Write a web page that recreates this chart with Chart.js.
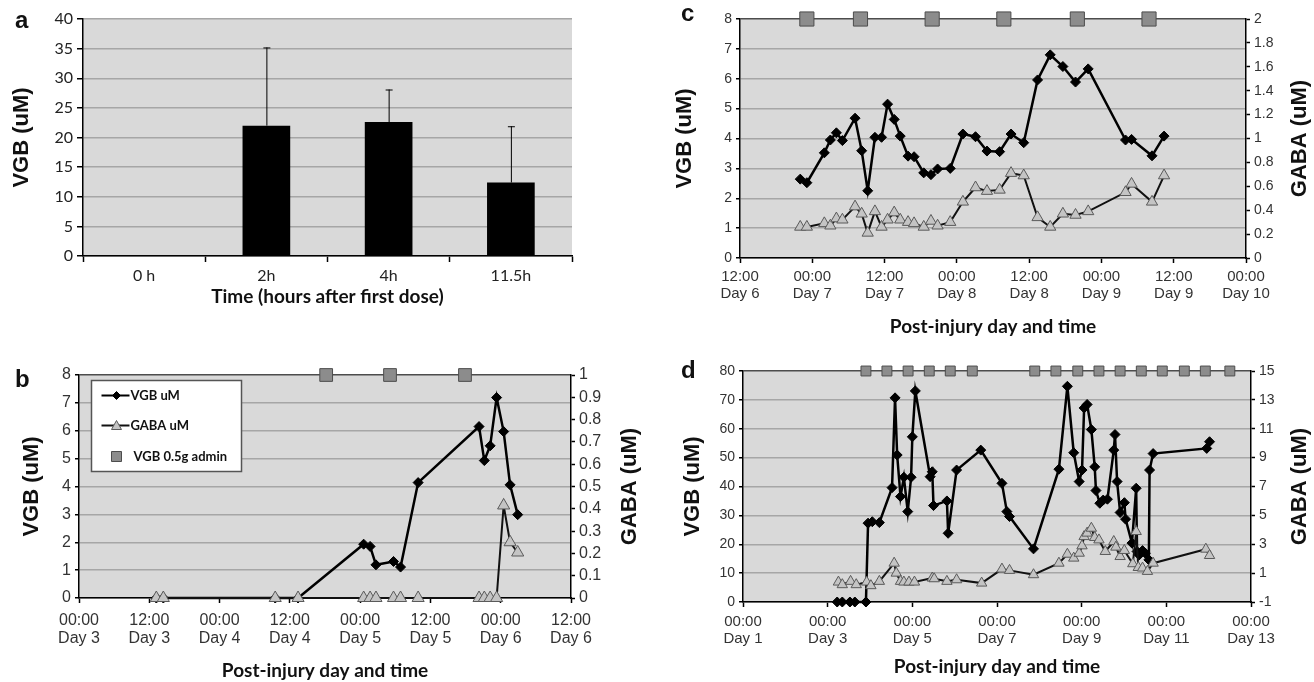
<!DOCTYPE html>
<html>
<head>
<meta charset="utf-8">
<title>VGB and GABA</title>
<script src="https://cdn.jsdelivr.net/npm/chart.js@4.4.0/dist/chart.umd.min.js"></script>
<style>
  body { margin: 0; background: #fff; }
  #fig { position: relative; width: 1314px; height: 682px; overflow: hidden; }
  #fig canvas { position: absolute; }
  .tag { position: absolute; font: bold 24px 'Liberation Sans', Arial, sans-serif; line-height: 24px; color: #111; }
</style>
</head>
<body>
<div id="fig">
  <canvas id="chartA" width="640" height="322" style="left:0;top:0"></canvas>
  <canvas id="chartB" width="655" height="337" style="left:0;top:345px"></canvas>
  <canvas id="chartC" width="654" height="340" style="left:660px;top:0"></canvas>
  <canvas id="chartD" width="654" height="342" style="left:660px;top:340px"></canvas>
  <div class="tag" style="left:15px;top:8px">a</div>
  <div class="tag" style="left:15px;top:367px">b</div>
  <div class="tag" style="left:681px;top:1px">c</div>
  <div class="tag" style="left:681px;top:358px">d</div>
</div>
<script>
// --- data: panel a (bars, hours after first dose) ---
const aCategories = ['0 h', '2h', '4h', '11.5h'];
const aMeans = [0, 22.0, 22.6, 12.4];
const aErrors = [0, 13.2, 5.5, 9.5];

// --- panel b: hours counted from 00:00 Day 3 ---
const bTickLabels = [['00:00', 'Day 3'], ['12:00', 'Day 3'], ['00:00', 'Day 4'], ['12:00', 'Day 4'],
                     ['00:00', 'Day 5'], ['12:00', 'Day 5'], ['00:00', 'Day 6'], ['12:00', 'Day 6']];
const bVgbHours = [13.2, 14.4, 33.5, 37.4, 48.6, 49.7, 50.7, 53.7, 54.9, 57.9, 68.3, 69.2, 70.2, 71.3, 72.5, 73.6, 74.9];
const bVgbValues = [0, 0, 0, 0, 1.93, 1.85, 1.19, 1.31, 1.11, 4.14, 6.15, 4.93, 5.46, 7.19, 5.97, 4.06, 2.99];
const bGabaHours = [13.2, 14.4, 33.5, 37.4, 48.6, 49.7, 50.7, 53.7, 54.9, 57.9, 68.3, 69.2, 70.2, 71.3, 72.5, 73.6, 74.9];
const bGabaValues = [0, 0, 0, 0, 0, 0, 0, 0, 0, 0, 0, 0, 0, 0, 0.415, 0.25, 0.204];
const bAdminHours = [42.2, 53.1, 65.9];

// --- panel c: hours counted from 12:00 Day 6 ---
const cTickLabels = [['12:00', 'Day 6'], ['00:00', 'Day 7'], ['12:00', 'Day 7'], ['00:00', 'Day 8'],
                     ['12:00', 'Day 8'], ['00:00', 'Day 9'], ['12:00', 'Day 9'], ['00:00', 'Day 10']];
const cHours = [10.0, 11.1, 14.0, 15.0, 16.0, 17.0, 19.1, 20.2, 21.2, 22.4, 23.5, 24.5, 25.6, 26.6, 27.9, 28.9,
                30.5, 31.7, 32.8, 34.9, 37.0, 39.1, 41.0, 43.1, 45.0, 47.1, 49.4, 51.5, 53.6, 55.7, 57.8,
                64.0, 65.0, 68.4, 70.4];
const cVgbValues = [2.64, 2.52, 3.52, 3.95, 4.19, 3.93, 4.68, 3.59, 2.25, 4.04, 4.04, 5.15, 4.64, 4.08, 3.41, 3.39,
                    2.85, 2.79, 2.98, 3.0, 4.15, 4.06, 3.58, 3.56, 4.15, 3.86, 5.96, 6.8, 6.41, 5.89, 6.33,
                    3.95, 3.97, 3.42, 4.08];
const cGabaValues = [0.26, 0.26, 0.29, 0.27, 0.33, 0.32, 0.43, 0.37, 0.21, 0.39, 0.26, 0.32, 0.38, 0.32, 0.30, 0.29,
                     0.26, 0.31, 0.27, 0.30, 0.47, 0.59, 0.56, 0.57, 0.71, 0.69, 0.34, 0.26, 0.37, 0.36, 0.39,
                     0.55, 0.62, 0.47, 0.69];
const cAdminHours = [11.1, 20.0, 31.9, 43.8, 56.0, 67.9];

// --- panel d: hours counted from 00:00 Day 1 ---
const dTickLabels = [['00:00', 'Day 1'], ['00:00', 'Day 3'], ['00:00', 'Day 5'], ['00:00', 'Day 7'],
                     ['00:00', 'Day 9'], ['00:00', 'Day 11'], ['00:00', 'Day 13']];
const dVgbHours = [53.4, 56.3, 60.6, 63.4, 69.7, 70.9, 73.3, 77.3, 84.5, 86.2, 87.4, 89.3, 91.2, 93.4, 95.3, 96.0,
                   97.7, 106.1, 107.3, 108.0, 115.6, 116.3, 121.1, 134.8, 146.8, 149.6, 151.1, 164.7, 179.1, 183.9,
                   187.5, 190.6, 192.2, 193.4, 195.1, 197.5, 199.4, 200.1, 202.3, 204.2, 206.6, 210.2, 210.9, 212.1,
                   213.8, 216.2, 216.9, 220.5, 222.9, 223.4, 224.6, 226.5, 228.1, 230.1, 230.5, 232.5, 262.9, 264.5];
const dVgbValues = [0, 0, 0, 0, 0, 27.3, 27.8, 27.5, 39.6, 70.7, 50.9, 36.5, 43.2, 31.3, 43.2, 57.2,
                    73.1, 43.4, 45.1, 33.4, 35.0, 23.8, 45.7, 52.6, 41.1, 31.3, 29.6, 18.4, 46.0, 74.7,
                    51.7, 41.7, 45.7, 67.2, 68.4, 59.7, 46.8, 38.6, 34.2, 35.3, 35.6, 52.6, 58.0, 41.7,
                    31.0, 34.4, 28.7, 20.4, 39.4, 17.5, 16.3, 17.8, 16.9, 14.6, 45.7, 51.4, 53.2, 55.5];
const dGabaHours = [54.1, 56.3, 61.0, 64.2, 70.1, 72.5, 77.3, 85.7, 86.9, 89.3, 91.2, 94.1, 97.2, 107.3, 108.4,
                    115.6, 121.1, 135.3, 146.8, 151.1, 164.7, 179.1, 183.9, 187.5, 190.6, 192.2, 193.4, 195.1,
                    197.5, 199.4, 201.8, 205.4, 210.2, 211.4, 213.8, 216.2, 221.0, 222.9, 224.1, 226.5, 229.3,
                    232.5, 262.4, 264.5];
const dGabaValues = [0.38, 0.20, 0.43, 0.20, 0.38, 0.13, 0.43, 1.69, 1.0, 0.43, 0.38, 0.38, 0.38, 0.66, 0.61,
                     0.43, 0.54, 0.31, 1.28, 1.19, 0.89, 1.69, 2.31, 2.04, 2.38, 2.89, 3.53, 3.77,
                     4.11, 3.47, 3.30, 2.50, 3.19, 2.80, 2.15, 2.57, 1.65, 3.88, 1.39, 1.35, 1.12,
                     1.69, 2.66, 2.22];
const dAdminHours = [69.7, 81.6, 93.6, 105.6, 117.5, 130.0, 165.4, 177.4, 189.8, 201.8, 213.8, 225.8,
                     237.7, 250.2, 262.1, 276.0];

// --- shared styling ---
const SANS = "'Liberation Sans', Arial, sans-serif";
const CALI = "Lato, 'Open Sans', sans-serif";
const GRID = '#a6a6a6';
const TEXT = '#333';

const plotBg = {
  id: 'plotBg',
  beforeDraw(chart) {
    const { ctx, chartArea: a } = chart;
    ctx.save();
    ctx.fillStyle = '#d9d9d9';
    ctx.fillRect(a.left, a.top, a.right - a.left, a.bottom - a.top);
    ctx.restore();
  }
};

// right axis title, rotated the same way as the left one (reads bottom to top)
const rightTitle = {
  id: 'rightTitle',
  afterDraw(chart, args, opts) {
    const { ctx, chartArea: a } = chart;
    ctx.save();
    ctx.translate(opts.x, (a.top + a.bottom) / 2);
    ctx.rotate(-Math.PI / 2);
    ctx.font = 'bold 22px ' + SANS;
    ctx.fillStyle = '#111';
    ctx.textAlign = 'center';
    ctx.textBaseline = 'middle';
    ctx.fillText(opts.text, 0, 0);
    ctx.restore();
  }
};

const errorBars = {
  id: 'errorBars',
  afterDatasetsDraw(chart) {
    const { ctx } = chart;
    const yScale = chart.scales.y;
    chart.getDatasetMeta(0).data.forEach((bar, i) => {
      if (!aErrors[i]) return;
      const top = yScale.getPixelForValue(aMeans[i] + aErrors[i]);
      ctx.save();
      ctx.strokeStyle = '#000';
      ctx.lineWidth = 1;
      ctx.beginPath();
      ctx.moveTo(bar.x + 0.5, bar.y);
      ctx.lineTo(bar.x + 0.5, top);
      ctx.moveTo(bar.x - 3, top + 0.5);
      ctx.lineTo(bar.x + 4, top + 0.5);
      ctx.stroke();
      ctx.restore();
    });
  }
};

// legend box drawn inside the plot of panel b
const legendB = {
  id: 'legendB',
  afterDraw(chart) {
    const { ctx, chartArea: a } = chart;
    const x0 = a.left + 12.5, y0 = a.top + 5.5, w = 150, h = 91;
    ctx.save();
    ctx.fillStyle = '#fff';
    ctx.strokeStyle = '#555';
    ctx.lineWidth = 1.5;
    ctx.fillRect(x0, y0, w, h);
    ctx.strokeRect(x0, y0, w, h);
    const ds = chart.data.datasets;
    const rows = [ds[2], ds[1], ds[0]];
    const rowY = [15, 45, 76];
    rows.forEach((d, i) => {
      const cy = y0 + rowY[i], mx = x0 + 25;
      if (d.showLine !== false) {
        ctx.strokeStyle = d.borderColor;
        ctx.lineWidth = 2;
        ctx.beginPath();
        ctx.moveTo(x0 + 10, cy);
        ctx.lineTo(x0 + 38, cy);
        ctx.stroke();
      }
      ctx.fillStyle = d.pointBackgroundColor || d.backgroundColor;
      ctx.strokeStyle = d.pointBorderColor || d.borderColor;
      ctx.lineWidth = 1;
      ctx.beginPath();
      if (d.pointStyle === 'rectRot') {
        ctx.moveTo(mx - 4, cy); ctx.lineTo(mx, cy - 4); ctx.lineTo(mx + 4, cy); ctx.lineTo(mx, cy + 4);
      } else if (d.pointStyle === 'triangle') {
        ctx.moveTo(mx - 5, cy + 4); ctx.lineTo(mx, cy - 5); ctx.lineTo(mx + 5, cy + 4);
      } else {
        ctx.rect(mx - 5, cy - 5, 10, 10);
      }
      ctx.closePath();
      ctx.fill();
      ctx.stroke();
      ctx.fillStyle = '#111';
      ctx.font = 'bold 13px ' + CALI;
      ctx.textBaseline = 'middle';
      ctx.fillText(d.label, x0 + (i === 2 ? 42 : 39), cy);
    });
    ctx.restore();
  }
};

function timeAxis(min, max, step, labels, height, pad, titlePad, fontSize) {
  return {
    type: 'linear', min, max,
    ticks: {
      stepSize: step, autoSkip: false, maxRotation: 0, minRotation: 0, padding: pad, color: TEXT,
      font: { family: SANS, size: fontSize, lineHeight: 1.15 },
      callback: (v, i) => labels[i]
    },
    grid: { drawOnChartArea: false, drawTicks: true, tickLength: 5, tickColor: '#000', tickWidth: 1.5 },
    border: { color: '#000', width: 1.5 },
    title: { display: true, text: 'Post-injury day and time', color: '#111',
             font: { family: CALI, size: 19, weight: 'bold' }, padding: { top: 0, bottom: titlePad } },
    afterFit: s => { s.height = height; }
  };
}

function valueAxis(pos, min, max, step, width, title, titlePad, fontSize) {
  const left = pos === 'left';
  return {
    position: pos, min, max,
    ticks: { stepSize: step, autoSkip: false, padding: 4, color: TEXT, font: { family: SANS, size: fontSize },
             callback: v => String(+v.toFixed(2)) },
    grid: left
      ? { color: c => (c.tick && c.tick.value === max ? '#4d4d4d' : GRID), lineWidth: 1.5,
          tickColor: '#000', tickLength: 4, tickWidth: 1.5 }
      : { drawOnChartArea: false, tickColor: '#000', tickLength: 4, tickWidth: 1.5 },
    border: { color: '#000', width: 1.5 },
    title: { display: left, text: title, color: '#111', font: { family: SANS, size: 22, weight: 'bold' },
             padding: { top: titlePad, bottom: 0 } },
    afterFit: s => { s.width = width; }
  };
}

function points(xs, ys) {
  return xs.map((x, i) => ({ x, y: ys[i] }));
}

function dualChart(id, cfg) {
  return new Chart(document.getElementById(id), {
    type: 'line',
    data: {
      datasets: [
        { label: 'VGB 0.5g admin', data: cfg.admin.map(x => ({ x, y: cfg.vgbMax })), yAxisID: 'y',
          showLine: false, pointStyle: 'rect', pointRadius: cfg.sq, backgroundColor: '#8c8c8c',
          pointBackgroundColor: '#8c8c8c', borderColor: '#4d4d4d', pointBorderColor: '#4d4d4d',
          pointBorderWidth: 1, clip: false },
        { label: 'GABA uM', data: points(cfg.gabaX, cfg.gabaY), yAxisID: 'y1', borderColor: '#111',
          borderWidth: 2, pointStyle: 'triangle', pointRadius: cfg.tri, pointBackgroundColor: '#c4c4c4',
          pointBorderColor: '#5a5a5a', pointBorderWidth: 1, clip: false },
        { label: 'VGB uM', data: points(cfg.vgbX, cfg.vgbY), yAxisID: 'y', borderColor: '#000',
          borderWidth: 2.5, pointStyle: 'rectRot', pointRadius: cfg.dia, pointBackgroundColor: '#000',
          pointBorderColor: '#000', pointBorderWidth: 1, clip: false }
      ]
    },
    options: {
      responsive: false, animation: false, devicePixelRatio: 1,
      layout: { padding: { top: cfg.top, left: 0, right: 0, bottom: 0 } },
      plugins: { legend: { display: false }, tooltip: { enabled: false },
                 rightTitle: { x: cfg.rightTitleX, text: 'GABA (uM)' } },
      scales: { x: cfg.x, y: cfg.y, y1: cfg.y1 }
    },
    plugins: cfg.plugins
  });
}

// --- panel a ---
new Chart(document.getElementById('chartA'), {
  type: 'bar',
  data: {
    labels: aCategories,
    datasets: [{ data: aMeans, backgroundColor: '#000', barPercentage: 0.39, categoryPercentage: 1 }]
  },
  options: {
    responsive: false, animation: false, devicePixelRatio: 1,
    layout: { padding: { top: 19, right: 68, left: 0, bottom: 0 } },
    plugins: { legend: { display: false }, tooltip: { enabled: false } },
    scales: {
      x: {
        ticks: { color: '#222', font: { family: CALI, size: 16 }, padding: 4 },
        grid: { drawOnChartArea: false, tickLength: 6, tickColor: '#000', tickWidth: 1.5 },
        border: { color: '#000', width: 1.5 },
        title: { display: true, text: 'Time (hours after first dose)', color: '#111',
                 font: { family: CALI, size: 19, weight: 'bold' }, padding: { top: 0, bottom: 14 } },
        afterFit: s => { s.height = 66; }
      },
      y: {
        min: 0, max: 40,
        ticks: { stepSize: 5, autoSkip: false, color: '#222', font: { family: CALI, size: 16 }, padding: 4 },
        grid: { color: GRID, lineWidth: 1.5, tickLength: 6, tickColor: '#000', tickWidth: 1.5 },
        border: { color: '#000', width: 1.5 },
        title: { display: true, text: 'VGB (uM)', color: '#111', font: { family: SANS, size: 22, weight: 'bold' },
                 padding: { top: 9, bottom: 0 } },
        afterFit: s => { s.width = 83; }
      }
    }
  },
  plugins: [plotBg, errorBars]
});

// --- panel b ---
dualChart('chartB', {
  admin: bAdminHours, vgbMax: 8, vgbX: bVgbHours, vgbY: bVgbValues, gabaX: bGabaHours, gabaY: bGabaValues,
  sq: 9, tri: 7, dia: 5, top: 30, rightTitleX: 630,
  x: timeAxis(0, 84, 12, bTickLabels, 84, 8, 0, 16),
  y: valueAxis('left', 0, 8, 1, 79, 'VGB (uM)', 19, 16),
  y1: valueAxis('right', 0, 1, 0.1, 84, 'GABA (uM)', 9, 16),
  plugins: [plotBg, legendB, rightTitle]
});

// --- panel c ---
dualChart('chartC', {
  admin: cAdminHours, vgbMax: 8, vgbX: cHours, vgbY: cVgbValues, gabaX: cHours, gabaY: cGabaValues,
  sq: 10, tri: 6.5, dia: 5, top: 19, rightTitleX: 640,
  x: timeAxis(0, 84, 12, cTickLabels, 82, 5, 2, 15),
  y: valueAxis('left', 0, 8, 1, 80, 'VGB (uM)', 12, 14),
  y1: valueAxis('right', 0, 2, 0.2, 68, 'GABA (uM)', 0, 14),
  plugins: [plotBg, rightTitle]
});

// --- panel d ---
dualChart('chartD', {
  admin: dAdminHours, vgbMax: 80, vgbX: dVgbHours, vgbY: dVgbValues, gabaX: dGabaHours, gabaY: dGabaValues,
  sq: 7, tri: 6, dia: 5, top: 31, rightTitleX: 640,
  x: timeAxis(0, 288, 48, dTickLabels, 80, 6, 4, 15),
  y: valueAxis('left', 0, 80, 10, 83, 'VGB (uM)', 20, 14),
  y1: valueAxis('right', -1, 15, 2, 63, 'GABA (uM)', 0, 14),
  plugins: [plotBg, rightTitle]
});
</script>
</body>
</html>
